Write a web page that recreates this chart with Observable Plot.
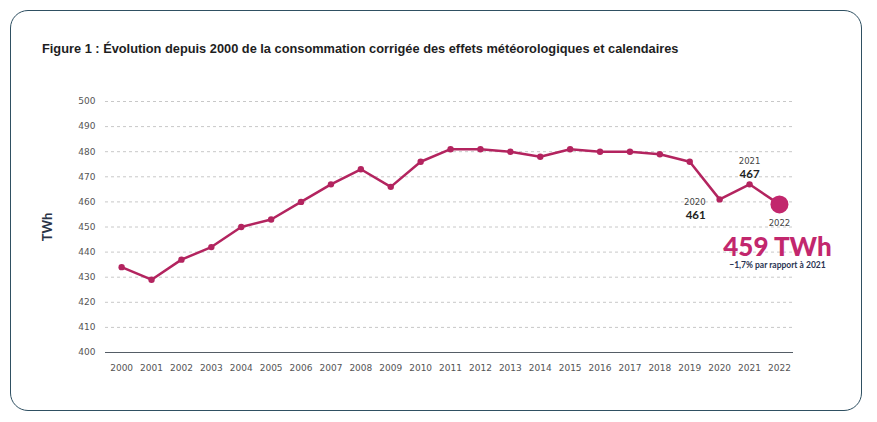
<!DOCTYPE html>
<html><head><meta charset="utf-8">
<script src="https://cdn.jsdelivr.net/npm/d3@7"></script>
<script src="https://cdn.jsdelivr.net/npm/@observablehq/plot@0.6"></script>
<style>
body{margin:0;background:#fff;width:877px;height:422px;position:relative;overflow:hidden;font-family:"DejaVu Sans",sans-serif;}
#frame{position:absolute;left:10px;top:10px;width:852px;height:401px;border:1.5px solid #2f5062;border-radius:18px;box-sizing:border-box;}
#title{position:absolute;left:42px;top:41px;font:bold 12.8px "Liberation Sans",Arial,sans-serif;color:#1e1e1e;white-space:nowrap;}
#chart{position:absolute;left:0;top:0;}
#chart svg [aria-label="y-axis label"] text{font:bold 13px Lato,sans-serif;fill:#2a3447;}
</style></head>
<body>
<div id="frame"></div>
<div id="title">Figure 1 : Évolution depuis 2000 de la consommation corrigée des effets météorologiques et calendaires</div>
<div id="chart"></div>
<script>
const years = [2000,2001,2002,2003,2004,2005,2006,2007,2008,2009,2010,2011,2012,2013,2014,2015,2016,2017,2018,2019,2020,2021,2022];
const values = [434,429,437,442,450,453,460,467,473,466,476,481,481,480,478,481,480,480,479,476,461,467,459];
const yTicks = [400,410,420,430,440,450,460,470,480,490,500];
const lineColor = "#b3245f";
const hiColor = "#c2276d";

const data = years.map((y,i)=>({year:y,value:values[i]}));
const last = data[data.length-1];
const d2020 = data.find(d=>d.year===2020);
const d2021 = data.find(d=>d.year===2021);

const plot = Plot.plot({
  width:877, height:422,
  marginLeft:105, marginRight:84, marginTop:101, marginBottom:70,
  style:{fontFamily:"'DejaVu Sans',sans-serif", fontSize:"9px", color:"#555", background:"transparent"},
  x:{domain:[1999.46,2022.47], ticks:years, tickFormat:d=>String(d)},
  y:{domain:[400,500], ticks:yTicks},
  marks:[
    Plot.ruleY(yTicks.filter(t=>t>400), {stroke:"#c8c8c8", strokeDasharray:"3,3", strokeWidth:1}),
    Plot.ruleY([400], {stroke:"#555d66", strokeWidth:1.2}),
    Plot.axisX({ticks:years, tickSize:0, tickPadding:12, tickFormat:d=>String(d), label:null, fill:"#555"}),
    Plot.axisY({ticks:yTicks, tickSize:0, tickPadding:10, label:"TWh", labelAnchor:"center", labelArrow:"none", labelOffset:63, fill:"#555"}),
    Plot.line(data, {x:"year", y:"value", stroke:lineColor, strokeWidth:2.5}),
    Plot.dot(data.slice(0,-1), {x:"year", y:"value", r:3.2, fill:lineColor}),
    Plot.dot([last], {x:"year", y:"value", r:9, fill:hiColor}),
    Plot.text([d2021], {x:"year", y:"value", text:d=>String(d.year), dy:-23, fontSize:8.5, fill:"#444"}),
    Plot.text([d2021], {x:"year", y:"value", text:d=>String(d.value), dy:-10, fontSize:11.5, fontWeight:"bold", fill:"#222", fontFamily:"Lato,sans-serif"}),
    Plot.text([d2020], {x:"year", y:"value", text:d=>String(d.year), textAnchor:"end", dx:-14, dy:3, fontSize:8.5, fill:"#444"}),
    Plot.text([d2020], {x:"year", y:"value", text:d=>String(d.value), textAnchor:"end", dx:-14, dy:16, fontSize:11.5, fontWeight:"bold", fill:"#222", fontFamily:"Lato,sans-serif"}),
    Plot.text([last], {x:"year", y:"value", text:d=>String(d.year), dy:19, fontSize:8.5, fill:"#444"}),
    Plot.text([last], {x:"year", y:"value", text:d=>`${d.value} TWh`, dx:-2, dy:43, fontSize:26, fontWeight:900, fill:hiColor, fontFamily:"Lato,sans-serif"}),
    Plot.text([last], {x:"year", y:"value", text:d=>`${d3.format(".1f")((d.value/d2021.value-1)*100).replace(".",",")}% par rapport à 2021`, dx:-2, dy:61, fontSize:8.5, fontWeight:"bold", fill:"#2a3452", fontFamily:"Lato,sans-serif"})
  ]
});
document.getElementById("chart").append(plot);
</script>
</body></html>
